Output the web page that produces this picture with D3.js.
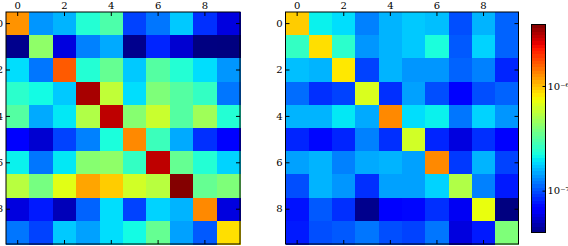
<!DOCTYPE html>
<html>
<head>
<meta charset="utf-8">
<script src="https://cdn.jsdelivr.net/npm/d3@7"></script>
<style>
  body { margin: 0; background: #fff; }
  text { font-family: "DejaVu Serif", serif; font-size: 10px; fill: #000; }
</style>
</head>
<body>
<div id="chart"></div>
<script>
// row / column indices of the two 10x10 matrices
var indices = d3.range(10);
var tickIdx = [0, 2, 4, 6, 8];

// left matrix (log colour scale)
var leftValues = [
  [1.26e-6, 1.38e-7, 1.58e-7, 2.4e-7, 3.02e-7, 9.5e-8, 1.2e-7, 1.74e-7, 8.7e-8, 5.8e-8],
  [4.2e-8, 4.37e-7, 5.8e-8, 1.26e-7, 1.51e-7, 4.2e-8, 8.3e-8, 5.5e-8, 4.0e-8, 3.6e-8],
  [1.91e-7, 1.2e-7, 1.66e-6, 2.4e-7, 3.47e-7, 1.74e-7, 3.16e-7, 2.4e-7, 1.91e-7, 1.38e-7],
  [2.51e-7, 2.19e-7, 1.74e-7, 3.31e-6, 5.75e-7, 1.91e-7, 3.98e-7, 3.16e-7, 2.63e-7, 1.2e-7],
  [3.16e-7, 1.51e-7, 2.0e-7, 5.25e-7, 3.02e-6, 4.17e-7, 6.03e-7, 3.16e-7, 4.79e-7, 2.4e-7],
  [6.9e-8, 5.5e-8, 9.5e-8, 1.26e-7, 2.29e-7, 1.32e-6, 2.75e-7, 1.51e-7, 8.7e-8, 6.9e-8],
  [2.09e-7, 1.2e-7, 2.0e-7, 4.17e-7, 4.37e-7, 2.63e-7, 3.02e-6, 3.47e-7, 2.4e-7, 1.82e-7],
  [5.5e-7, 3.8e-7, 6.92e-7, 1.15e-6, 9.55e-7, 6.31e-7, 5.5e-7, 3.8e-6, 3.47e-7, 3.98e-7],
  [5.8e-8, 7.9e-8, 5.0e-8, 1.1e-7, 1.91e-7, 9.5e-8, 1.82e-7, 1.58e-7, 1.32e-6, 5.8e-8],
  [1.2e-7, 9.5e-8, 1.74e-7, 1.45e-7, 1.91e-7, 2.19e-7, 3.47e-7, 1.45e-7, 1.05e-7, 8.71e-7]
];

// right matrix
var rightValues = [
  [9.55e-7, 2.09e-7, 1.91e-7, 1.26e-7, 1.58e-7, 1.74e-7, 1.66e-7, 1.0e-7, 1.58e-7, 1.1e-7],
  [2.63e-7, 8.71e-7, 2.51e-7, 1.38e-7, 1.58e-7, 1.74e-7, 2.29e-7, 1.05e-7, 1.82e-7, 1.1e-7],
  [1.66e-7, 1.58e-7, 8.32e-7, 9.5e-8, 1.58e-7, 1.38e-7, 1.38e-7, 1.1e-7, 1.26e-7, 8.3e-8],
  [1.15e-7, 8.7e-8, 9.5e-8, 6.61e-7, 8.7e-8, 1.45e-7, 1.0e-7, 6.9e-8, 1.0e-7, 1.1e-7],
  [1.58e-7, 1.58e-7, 2.0e-7, 1.51e-7, 1.32e-6, 1.91e-7, 2.09e-7, 1.2e-7, 1.82e-7, 1.38e-7],
  [8.3e-8, 7.2e-8, 8.3e-8, 1.26e-7, 8.7e-8, 6.31e-7, 8.3e-8, 5.8e-8, 8.7e-8, 6.6e-8],
  [1.45e-7, 1.58e-7, 1.26e-7, 1.51e-7, 1.58e-7, 1.45e-7, 1.32e-6, 9.1e-8, 1.58e-7, 9.5e-8],
  [1.0e-7, 1.58e-7, 1.38e-7, 8.7e-8, 1.45e-7, 1.45e-7, 1.82e-7, 5.25e-7, 1.26e-7, 7.9e-8],
  [7.6e-8, 1.05e-7, 8.7e-8, 4.2e-8, 6.9e-8, 7.2e-8, 8.7e-8, 6.3e-8, 7.24e-7, 3.8e-8],
  [7.9e-8, 1.0e-7, 1.05e-7, 1.2e-7, 1.0e-7, 9.5e-8, 1.2e-7, 5.8e-8, 7.9e-8, 3.98e-7]
];

// colour bar range and labelled ticks
var vmin = 3.98e-8, vmax = 3.87e-6;
var cbarTicks = [1e-7, 1e-6];
var cbarLabels = ["10\u207b\u2077", "10\u207b\u2076"];

var width = 568, height = 246;

var svg = d3.select("#chart").append("svg")
  .attr("width", width)
  .attr("height", height);

// log norm -> [0,1] -> jet
var norm = d3.scaleLog().domain([vmin, vmax]).range([0, 1]).clamp(true);
var jetR = d3.scaleLinear().domain([0, 0.35, 0.66, 0.89, 1]).range([0, 0, 1, 1, 0.5]).clamp(true);
var jetG = d3.scaleLinear().domain([0, 0.125, 0.375, 0.64, 0.91, 1]).range([0, 0, 1, 1, 0, 0]).clamp(true);
var jetB = d3.scaleLinear().domain([0, 0.11, 0.34, 0.65, 1]).range([0.5, 1, 1, 0, 0]).clamp(true);
function jet(t) {
  return d3.rgb(jetR(t) * 255, jetG(t) * 255, jetB(t) * 255) + "";
}
function colorOf(v) { return jet(norm(v)); }

function drawMatrix(data, left, top, w, h) {
  var x = d3.scaleBand().domain(indices).range([0, w]);
  var y = d3.scaleBand().domain(indices).range([0, h]);

  var g = svg.append("g")
    .attr("transform", "translate(" + left + "," + top + ")");

  var cells = [];
  data.forEach(function(row, i) {
    row.forEach(function(v, j) { cells.push({row: i, col: j, value: v}); });
  });

  g.selectAll(".cell")
    .data(cells)
  .enter().append("rect")
    .attr("class", "cell")
    .attr("x", function(d) { return x(d.col); })
    .attr("y", function(d) { return y(d.row); })
    .attr("width", x.bandwidth() + 0.5)
    .attr("height", y.bandwidth() + 0.5)
    .attr("shape-rendering", "crispEdges")
    .style("fill", function(d) { return colorOf(d.value); });

  // ticks point inwards on all four sides
  var axes = [
    {axis: d3.axisTop(x).tickFormat(d3.format("d")), t: "translate(0,0)"},
    {axis: d3.axisBottom(x).tickFormat(""), t: "translate(0," + h + ")"},
    {axis: d3.axisLeft(y).tickFormat(d3.format("d")), t: "translate(0,0)"},
    {axis: d3.axisRight(y).tickFormat(""), t: "translate(" + w + ",0)"}
  ];
  axes.forEach(function(a) {
    var ax = g.append("g")
      .attr("transform", a.t)
      .call(a.axis.tickValues(tickIdx).tickSize(-4).tickPadding(3));
    ax.select(".domain").remove();
    ax.selectAll("text").style("font-family", "DejaVu Serif").style("font-size", "10px");
  });

  g.append("rect")
    .attr("width", w)
    .attr("height", h)
    .attr("fill", "none")
    .attr("stroke", "#000")
    .attr("stroke-width", 1);
}

drawMatrix(leftValues, 6, 12, 234, 232);
drawMatrix(rightValues, 285.5, 12, 233, 232);

// colour bar
var cbX = 531.5, cbTop = 24.5, cbBottom = 232.5, cbW = 14;
var cbY = d3.scaleLog().domain([vmin, vmax]).range([cbBottom, cbTop]);
var steps = 64;
var bands = d3.range(steps).map(function(k) {
  return {lo: vmin * Math.pow(vmax / vmin, k / steps), hi: vmin * Math.pow(vmax / vmin, (k + 1) / steps)};
});

var cb = svg.append("g");
cb.selectAll(".band")
  .data(bands)
.enter().append("rect")
  .attr("class", "band")
  .attr("x", cbX)
  .attr("y", function(d) { return cbY(d.hi); })
  .attr("width", cbW)
  .attr("height", function(d) { return cbY(d.lo) - cbY(d.hi) + 0.5; })
  .attr("shape-rendering", "crispEdges")
  .style("fill", function(d) { return colorOf(Math.sqrt(d.lo * d.hi)); });

var cbAxis = cb.append("g")
  .attr("transform", "translate(" + (cbX + cbW) + ",0)")
  .call(d3.axisRight(cbY)
    .tickValues(cbarTicks)
    .tickSize(-3)
    .tickPadding(2)
    .tickFormat(function(d, i) { return cbarLabels[i]; }));
cbAxis.select(".domain").remove();
cbAxis.selectAll("text").style("font-family", "DejaVu Serif").style("font-size", "10px");

cb.append("rect")
  .attr("x", cbX)
  .attr("y", cbTop)
  .attr("width", cbW)
  .attr("height", cbBottom - cbTop)
  .attr("fill", "none")
  .attr("stroke", "#000");
</script>
</body>
</html>
